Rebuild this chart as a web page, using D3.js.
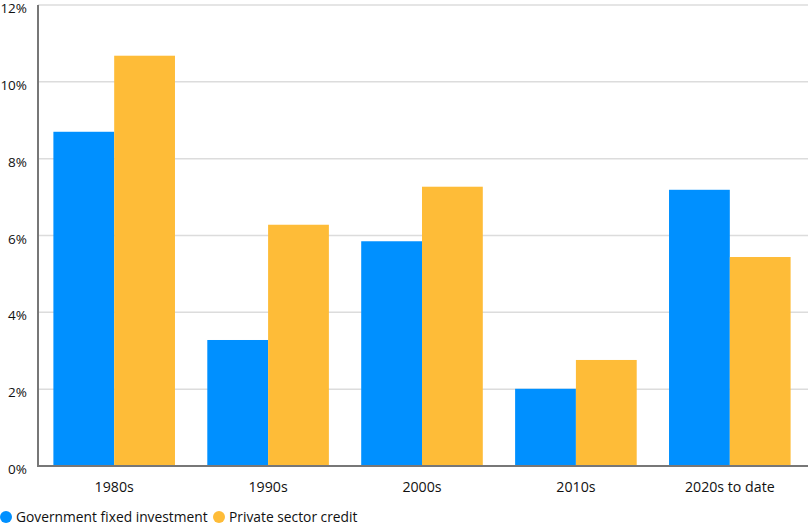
<!DOCTYPE html>
<html><head><meta charset="utf-8">
<script src="https://cdn.jsdelivr.net/npm/d3@7"></script>
<style>
body{margin:0;background:#fff;}
text{font-family:"Open Sans",Arial,sans-serif;fill:#111;}
</style></head>
<body><svg id="c" width="808" height="525"></svg>
<script>
const categories = ["1980s","1990s","2000s","2010s","2020s to date"];
const seriesNames = ["Government fixed investment","Private sector credit"];
const govInvestment = [8.7, 3.28, 5.85, 2.01, 7.19];
const privateCredit = [10.68, 6.28, 7.27, 2.76, 5.44];
const yTicks = [0,2,4,6,8,10,12];
const colors = ["#0090FF","#FEBC38"];

(function(){
const svg = d3.select("#c");
const mLeft = 38, mRight = 806, mTop = 5, mBottom = 466;
const y = d3.scaleLinear().domain([0,12]).range([mBottom, mTop]);
const x0 = d3.scaleBand().domain(categories).range([mLeft, mRight]).paddingInner(0.21).paddingOuter(0.1);
const x1 = d3.scaleBand().domain(seriesNames).range([0, x0.bandwidth()]);

// grid
svg.append("g").selectAll("line").data(yTicks.filter(d=>d>0)).join("line")
  .attr("x1", mLeft).attr("x2", 808).attr("y1", d=>y(d)).attr("y2", d=>y(d))
  .attr("stroke","#dcdcdc").attr("stroke-width",1.5);

const data = categories.map((c,i)=>({cat:c, vals:[govInvestment[i], privateCredit[i]]}));
svg.append("g").selectAll("g").data(data).join("g")
  .attr("transform", d=>`translate(${x0(d.cat)},0)`)
  .selectAll("rect").data(d=>d.vals.map((v,j)=>({v, s:seriesNames[j], j})))
  .join("rect")
  .attr("x", d=>x1(d.s)).attr("width", x1.bandwidth())
  .attr("y", d=>y(d.v)).attr("height", d=>y(0)-y(d.v))
  .attr("fill", d=>colors[d.j]);

// axes lines
svg.append("line").attr("x1",mLeft).attr("x2",mLeft).attr("y1",mTop).attr("y2",mBottom+1)
  .attr("stroke","#777").attr("stroke-width",2);
svg.append("line").attr("x1",mLeft-1).attr("x2",808).attr("y1",mBottom).attr("y2",mBottom)
  .attr("stroke","#777").attr("stroke-width",2);

// y labels
svg.append("g").selectAll("text").data(yTicks).join("text")
  .attr("x", 27).attr("y", d=>y(d)+8)
  .attr("text-anchor","end").attr("font-size",13.5).text(d=>d+"%");

// x labels
svg.append("g").selectAll("text").data(categories).join("text")
  .attr("x", d=>x0(d)+x0.bandwidth()/2).attr("y", 492)
  .attr("text-anchor","middle").attr("font-size",14.2).text(d=>d);

// legend
const lx = [6, 219];
const lg = svg.append("g").selectAll("g").data(seriesNames).join("g")
  .attr("transform",(d,i)=>`translate(${lx[i]},517)`);
lg.append("circle").attr("r",6).attr("fill",(d,i)=>colors[i]);
lg.append("text").attr("x",10).attr("y",5).attr("font-size",13.8).text(d=>d);
})();
</script></body></html>
